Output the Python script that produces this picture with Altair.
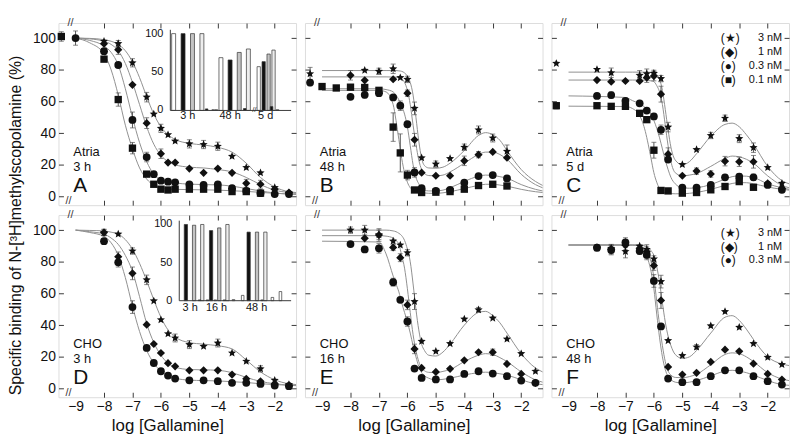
import math
import altair as alt
import pandas as pd

FONT = "Liberation Sans"
SERIES = ["3 nM", "1 nM", "0.3 nM", "0.1 nM"]

# ---------------- measured points (log[Gallamine], % binding, s.e.m.) ----------------
A_X = [-9.5, -9.0, -8, -7.5, -7, -6.5, -6.25, -6, -5.75, -5.5, -5, -4.5, -4, -3.5, -3, -2.5, -2, -1.5]
A_3 = [None, None, 98, 96.5, 84.4, 62.7, 52, 43, 39, 35, 33.2, 32.8, 31.7, 25.3, 18.3, 14.9, 5.6, 2.1]
A_3E = [0, 0, 0, 2, 2.6, 3, 0, 2.6, 0, 0, 2.6, 2.6, 2.6, 0, 0, 0, 0, 0]
A_1 = [None, None, 96.5, 92.7, 70.5, 46.3, None, 27, 21.4, 21.4, 17.6, 14.9, 17.6, 14.9, 8.3, 7.7, 4.5, 2.5]
A_1E = [0, 0, 0, 3, 0, 3.4, 0, 3, 0, 0, 0, 0, 0, 0, 2.5, 2.5, 0, 0]
A_03 = [None, 100, 91.7, 83, 48.3, 24.9, 14.1, 10, 9.3, 8.9, 7.7, 7.3, 7.7, 5.2, 3.5, 2.1, 1.5, 1.5]
A_03E = [0, 4.5, 0, 0, 5, 3, 0, 0, 0, 0, 0, 0, 0, 0, 0, 0, 0, 0]
A_01 = [101, None, 86.7, 61.2, 30.5, 14.1, 7.7, 4.6, 4.1, 4.6, 4.6, 4.6, 4.6, 3.1, 3.1, 2.1, None, None]
A_01E = [3, 0, 0, 4.2, 3.6, 0, 0, 0, 0, 0, 0, 0, 0, 0, 0, 0, 0, 0]

B_X = [-9.42, -9, -8.5, -8, -7.5, -7, -6.5, -6.25, -6, -5.75, -5.5, -5, -4.5, -4, -3.5, -3, -2.5]
B_3 = [77.5, None, None, None, 79.6, 79, 80.6, 75, 73.9, 55.6, 24.4, 20.4, 23.9, 31.1, 42, 36.9, 28.5]
B_3E = [4, 0, 0, 0, 0, 2, 3, 0, 2, 4, 0, 2, 0, 2, 2.5, 2.5, 4]
B_1 = [None, None, None, 76.5, 73.3, None, 74, None, 65.2, 35.8, 15, 13.1, 13.1, 22.5, 26.4, 28.1, 24.5]
B_1E = [0, 0, 0, 3, 0, 0, 0, 0, 2, 4, 0, 0, 0, 3, 2, 0, 0]
B_03 = [71.9, None, None, 62.9, 64.2, 65.2, 62.5, 57.3, 45.6, 15.2, 5.2, 3.5, 4.1, 8.7, 12.9, 13.5, 11.4]
B_03E = [2, 0, 0, 0, 2, 0, 0, 3, 0, 3, 0, 0, 0, 0, 0, 0, 0]
B_01 = [None, 69.4, 68.5, 69, 68.8, 67, 43.8, 27.5, 13.5, 4.1, 2.5, 2.7, 3.1, 4.6, 6.9, 7.7, 6.6]
B_01E = [0, 0, 0, 0, 0, 0, 9, 12, 3, 0, 0, 0, 0, 0, 0, 0, 0]

C_X = [-9.43, -8, -7.5, -7, -6.5, -6.25, -6, -5.75, -5.5, -5, -4.5, -4, -3.5, -3, -2.5, -2, -1.5]
C_3 = [84, 80.2, 78.1, None, 76.5, 77.5, 77.7, 74.4, 43.8, 20.2, 29.6, 38.5, 49.4, 36.5, 30.8, 18.3, 8.3]
C_3E = [0, 0, 3, 0, 3, 3, 2, 2, 3, 0, 0, 2, 2, 2.5, 3, 0, 0]
C_1 = [None, 73.5, 72.5, 72.9, 72.9, 75, 76, 64.6, 26.7, 13.1, 16, 14.2, 22.3, 21.9, 21.9, 8.3, 5.2]
C_1E = [0, 0, 0, 0, 0, 3, 3, 5, 4, 0, 2, 2, 3, 3, 4, 0, 0]
C_03 = [None, 63.5, 64, 60.4, 58.8, 54.2, 50.5, 42.1, 23.3, 5.6, 5.6, 7.3, 12.1, 12.5, 12.1, 7.3, 4.2]
C_03E = [0, 0, 2, 0, 0, 0, 0, 3, 0, 0, 0, 0, 0, 2, 2, 0, 0]
C_01 = [57.3, 57.3, 56.9, 56.9, 52.5, 48.5, 29.2, 3.8, 3.5, 2.1, 2.5, 4.2, 6.3, 9.4, 5.8, None, None]
C_01E = [2, 0, 0, 0, 0, 0, 5, 0, 0, 0, 0, 0, 0, 0, 0, 0, 0]

D_X = [-8, -7.5, -7, -6.5, -6.25, -6, -5.75, -5.5, -5, -4.5, -4, -3.5, -3, -2.5, -2, -1.5]
D_3 = [98.5, 97.5, 86.8, 68.6, 55.3, 43.4, 34.6, 31.9, 27.7, 26.6, 28.7, 22.4, 17.2, 12.4, 5.2, 2.5]
D_3E = [2, 0, 2, 3, 0, 0, 0, 2.5, 2.5, 0, 2.5, 0, 0, 2, 0, 0]
D_1 = [98.5, 83.2, 72.7, 40.3, 28.1, 22.4, 16, 14, 11.5, 11.5, 11.5, 8.8, 6.1, 4.6, 2.9, 2]
D_1E = [2, 3, 4, 0, 0, 0, 0, 0, 0, 0, 0, 0, 0, 0, 0, 0]
D_03 = [93, 79.7, 51.4, 25.6, 16.1, 10.9, 8.2, 6.3, 5.2, 5.2, 4.6, 3.6, 3.6, 2.9, 1.9, 1.5]
D_03E = [0, 3, 4, 0, 0, 0, 0, 0, 0, 0, 0, 0, 0, 0, 0, 0]

E_X = [-8, -7.5, -7, -6.5, -6.25, -6, -5.75, -5.5, -5, -4.5, -4, -3.5, -3, -2.5, -2, -1.5]
E_3 = [100, 100, 97, 93.1, 90.6, 85.7, 54.9, 29.8, 23.5, 28.3, 43.8, 49.7, 44.4, 31.2, 22, 10.9]
E_3E = [2, 3, 3, 0, 0, 2, 5, 0, 0, 0, 0, 1.5, 0, 0, 0, 0]
E_1 = [None, 94.8, 96.9, 89.1, 82.6, 52.8, 25, 13, 10.5, 12.4, 17.8, 22.9, 22.9, 15.5, 9.2, 3.6]
E_1E = [0, 0, 4, 2, 2.5, 3, 3, 0, 0, 0, 0, 0, 2, 0, 0, 0]
E_03 = [91.2, 87.8, 88.5, 67.1, 56, 42.3, 12.6, 6.7, 5.7, 5.7, 9.2, 10.9, 9.4, 7.8, 5, 3.6]
E_03E = [0, 0, 3, 2.5, 0, 3, 0, 0, 0, 0, 0, 0, 0, 0, 0, 0]

F_X = [-8, -7.5, -7, -6.5, -6.25, -6, -5.75, -5.5, -5, -4.5, -4, -3.5, -3, -2.5, -2, -1.5]
F_3 = [88.9, 88.5, 86.5, 89.9, 87.8, 81.8, 67.5, 30.2, 20.8, 26.2, 39.6, 48.6, 38.6, 28.3, 19.7, 15.1]
F_3E = [0, 2, 4, 0, 3, 2, 4, 0, 0, 1.5, 0, 0, 0, 0, 0, 0]
F_1 = [88.9, 88, 90.5, 88.5, 86.4, 77.6, 55.6, 13.6, 8.8, 9.9, 16.8, 24.5, 23.5, 15.7, 9.2, 5.7]
F_1E = [0, 3, 3, 2, 3, 3, 5, 0, 0, 0, 0, 0, 0, 0, 0, 0]
F_03 = [88.9, 87.4, 92.2, 86.8, 84.3, 67.9, 39.2, 6.3, 4, 4, 7.8, 11.5, 11.5, 7.8, 4.6, 2.5]
F_03E = [2, 3, 3, 2, 3, 4, 0, 0, 0, 0, 0, 0, 0, 0, 0, 0]

# ---------------- fitted curves ----------------
GA = [-9, -8.5, -8, -7.75, -7.5, -7.25, -7, -6.75, -6.5, -6.25, -6, -5.75, -5.5, -5, -4.5, -4, -3.5, -3, -2.5, -2, -1.5, -1.25]
A_C3 = [100, 99.8, 99, 98, 96, 92, 85, 75, 63, 52, 44, 39, 36, 33.5, 32.5, 31, 28, 21, 12, 6, 3, 2.5]
A_C1 = [100, 99.5, 98, 96, 92, 84, 72, 58, 44, 33, 26, 22, 20, 18.5, 18, 17, 15.5, 12, 7.5, 4, 2.5, 2]
A_C03 = [100, 98.5, 95, 91, 83, 68, 50, 34, 22, 14, 10.5, 9.3, 8.5, 7.8, 7.5, 7.3, 6.5, 5, 3.5, 2.2, 1.5, 1.3]
A_C01 = [100, 97, 90, 80, 64, 45, 30, 18, 11, 7, 5.2, 4.7, 4.5, 4.3, 4.2, 4, 3.6, 3.2, 2.6, 2, 1.6, 1.5]
D_C3 = [100, 99.8, 99.5, 98.7, 97.5, 94, 88, 79, 68, 56, 45, 37, 32.5, 29, 28, 27, 25, 18, 10.5, 5.5, 3, 2.5]
D_C1 = [100, 99, 97.5, 95, 91, 84, 74, 58, 41, 29, 21, 16, 13.5, 12, 11.8, 11.5, 10, 7, 4.5, 3, 2.2, 2]
D_C03 = [100, 98.5, 96, 92, 84, 70, 52, 36, 24, 16, 11, 8, 6.5, 5.3, 5, 4.8, 4.3, 3.8, 3, 2.5, 2, 1.8]

GB = [-9, -7, -6.75, -6.5, -6.4, -6.3, -6.2, -6.1, -6, -5.9, -5.8, -5.7, -5.6, -5.5, -5.4, -5.25,
      -5, -4.75, -4.5, -4, -3.5, -3.25, -3, -2.75, -2.5, -2, -1.5, -1.25]
B_C3 = [79.5, 79.5, 79.5, 79.5, 79.5, 79.3, 79, 78, 76, 72, 64, 50, 35, 24, 19.5, 18, 17.8, 18.5, 21, 29, 38.5, 40.3, 39, 35.5, 29, 17, 9.5, 7]
B_C1 = [75.5, 75.5, 75.5, 75.4, 75.3, 75, 74.3, 72, 67, 58, 45, 33, 23, 17, 14.5, 13.2, 13, 13.5, 15.5, 21, 26.5, 28, 28, 26.5, 23.5, 14, 7.5, 5.5]
B_C03 = [68, 68, 67.5, 66, 64, 61, 57, 52, 44, 32, 20, 12, 8, 5, 4, 3.5, 3.5, 4, 5.5, 9.5, 12.8, 13.5, 13.3, 12.5, 11.5, 7.5, 4.5, 3.5]
B_C01 = [67, 67, 66, 58, 48, 36, 24, 15, 9, 5.5, 4, 3.3, 2.8, 2.5, 2.2, 2, 2, 2.3, 3, 5, 7, 7.7, 7.7, 7.2, 6.5, 4.5, 3, 2.5]
C_C3 = [78.5, 78.5, 78.5, 78.5, 78.5, 78.5, 78.5, 78.3, 78, 77, 74, 67, 55, 42, 31, 23, 20, 22, 27, 38, 45.5, 46.3, 44, 39, 33, 19, 10, 8]
C_C1 = [73.5, 73.5, 73.5, 73.5, 73.5, 73.4, 73.2, 73, 72.5, 70, 66, 58, 45, 32, 22, 15, 13, 13.5, 14.5, 19, 24, 25.5, 25, 23.5, 21, 13, 7, 5.5]
C_C03 = [63.5, 62.5, 60.5, 58.5, 57.5, 56, 54.5, 52, 48, 43, 37, 30, 23, 17, 12, 8, 5.5, 5.2, 5.5, 7.5, 11, 12.5, 13, 12.8, 12, 8, 5.5, 4.5]
C_C01 = [57, 56.8, 55.5, 51, 47, 41, 33, 24, 15, 9, 5, 3, 2.2, 1.9, 1.8, 1.7, 1.7, 2, 2.5, 4.5, 7, 8.2, 8.7, 8.7, 8, 6, 4.5, 4]
E_C3 = [100, 100, 100, 99.5, 99, 98, 96.5, 93.5, 88, 80, 66, 50, 37, 28, 24, 21, 20.5, 23, 28, 40, 48, 48.7, 46, 41.5, 35, 22, 13, 10.5]
E_C1 = [96.5, 96.5, 96.2, 95, 93.5, 91, 84, 76, 63, 48, 34, 24, 17, 13, 11.2, 10.2, 10, 10.8, 12, 17, 21, 22, 21.5, 19.5, 17, 10.5, 5.5, 4]
E_C03 = [93, 92.5, 85, 71, 66, 61, 54, 48, 42, 35, 27, 20, 14, 10, 8, 6.5, 5.5, 5.8, 6.5, 8.5, 10, 10.3, 10, 9.3, 8.5, 5.5, 3, 2.5]
F_C3 = [90.6, 90.6, 90.6, 90.5, 90.3, 90, 89, 87, 84, 77, 67, 54, 42, 33, 27, 21.5, 19, 20, 24, 35, 45, 46, 43, 37.5, 31, 20, 15.5, 14.5]
F_C1 = [90.6, 90.6, 90.6, 90.3, 89.5, 88, 85, 80, 70, 55, 40, 27, 17, 11, 8.5, 7, 6.8, 7.5, 9, 15, 21.5, 22.5, 22, 20, 17, 10, 6, 5]
F_C03 = [90.6, 90.6, 90.5, 90, 88.5, 86, 81, 74, 63, 47, 32, 20, 12, 7.5, 5.5, 4, 3.5, 4, 5, 8, 11, 11.5, 11, 10, 8.5, 5, 2.5, 2]

# ---------------- inset bar charts ----------------
IA_GROUPS = ["3 h", "48 h", "5 d"]
IA_FILLS = ["white", "black", "cross", "grid"]
IA_MAIN = [[100, 100, 100, 100], [68.7, 65.7, 75.5, 80], [57, 63.5, 73.4, 78.6]]
IA_SMALL = [("3 h", 3.5, 2, "black"), ("3 h", 4.2, 1, "white"), ("48 h", -0.5, 1, "white"),
            ("48 h", 2.6, 2.5, "black"), ("5 d", 2.6, 5, "black"), ("5 d", 3.8, 1, "white")]
ID_GROUPS = ["3 h", "16 h", "48 h"]
ID_FILLS = ["black", "cross", "grid"]
ID_MAIN = [[100, 99, 100], [92, 95.5, 100], [90, 90, 90]]
ID_SMALL = [("3 h", 1.67, 1, "black"), ("16 h", -0.44, 1, "black"), ("16 h", 0.52, 1, "white"),
            ("16 h", 1.63, 1, "black"), ("16 h", 2.74, 1.5, "white"), ("16 h", 3.86, 7, "white"),
            ("48 h", 1.6, 1, "black"), ("48 h", 2.84, 4.3, "white"), ("48 h", 3.8, 12, "white")]
INSET_TICKS = [0, 50, 100]

PANEL_TISSUE = ["Atria", "Atria", "Atria", "CHO", "CHO", "CHO"]
PANEL_TIME = ["3 h", "48 h", "5 d", "3 h", "16 h", "48 h"]
PANEL_LETTER = ["A", "B", "C", "D", "E", "F"]
LEGEND_SYMS = ["(\u2605)", "(\u25c6)", "(\u25cf)", "(\u25a0)"]

# ---------------- layout / style ----------------
W, H = 240, 184
XD = [-9.6, -1.25]
YD = [-5.5, 109.5]
AX = "#3a3a3a"
XS = alt.Scale(domain=XD, nice=False, zero=False)
YS = alt.Scale(domain=YD, nice=False, zero=False)


def star_path(inner=0.45):
    pts = []
    for k in range(10):
        a = -math.pi / 2 + k * math.pi / 5
        r = 1.0 if k % 2 == 0 else inner
        pts.append(f"{r * math.cos(a):.3f},{r * math.sin(a):.3f}")
    return "M" + "L".join(pts) + "Z"


STAR = star_path()


def pts_df(xs, series):
    rows = []
    for name, ys, es in series:
        for x, y, e in zip(xs, ys, es):
            if y is None:
                continue
            rows.append(dict(x=x, y=y, s=name, e=e, lo=y - e, hi=y + e))
    return pd.DataFrame(rows)


def curve_df(xs, series):
    rows = []
    for name, ys in series:
        for x, y in zip(xs, ys):
            rows.append(dict(x=x, y=y, s=name))
    return pd.DataFrame(rows)


def txt(text, px, py, size, align="left", baseline="middle"):
    return alt.Chart(pd.DataFrame({"t": [text]})).mark_text(
        align=align, baseline=baseline, fontSize=size, font=FONT, color="#111").encode(
        text="t:N", x=alt.value(px), y=alt.value(py))


def X(f, axis=None):
    return alt.X(f, type="quantitative", scale=XS, axis=axis, title=None)


def Y(f, axis=None):
    return alt.Y(f, type="quantitative", scale=YS, axis=axis, title=None)


def inset(groups, mains, fills, starts, steps, widths, smalls, label_slots, left, y0, k, label_y, brk=None):
    rows = []
    for g, vals, st, sp, w in zip(groups, mains, starts, steps, widths):
        for i, (v, f) in enumerate(zip(vals, fills)):
            rows.append(dict(pos=st + i * sp, v=v, f=f, w=w))
    for g, slot, v, f in smalls:
        gi = groups.index(g)
        rows.append(dict(pos=starts[gi] + slot * steps[gi], v=v, f=f, w=2.6))
    bars = pd.DataFrame(rows)
    xmax = (W - left) / 10.0
    isx = alt.Scale(domain=[0, xmax], range=[left, W], nice=False, zero=False)
    isy = alt.Scale(domain=[0, 105], range=[y0, y0 - 105 * k], nice=False, zero=False)

    def IX(f):
        return alt.X(f, type="quantitative", scale=isx, axis=None, title=None)

    def IY(f):
        return alt.Y(f, type="quantitative", scale=isy, axis=None, title=None)

    axes_df = pd.DataFrame({"p0": [0.0], "p1": [xmax], "v0": [0], "v1": [105]})
    yline = alt.Chart(axes_df).mark_rule(color=AX, strokeWidth=1).encode(x=IX("p0:Q"), y=IY("v0:Q"), y2="v1:Q")
    xline = alt.Chart(axes_df).mark_rule(color=AX, strokeWidth=1).encode(x=IX("p0:Q"), x2="p1:Q", y=IY("v0:Q"))
    bar_layer = alt.Chart(bars).mark_bar(stroke="#333", strokeWidth=0.7).encode(
        x=IX("pos:Q"), y=IY("v:Q"),
        fill=alt.Fill("f:N", scale=alt.Scale(domain=["white", "black", "cross", "grid"],
                                             range=["#ffffff", "#111111", "#c4c4c4", "#ededed"]),
                      legend=None),
        size=alt.Size("w:Q", scale=None),
    )
    lab_rows = [dict(pos=st + sl * sp, v=label_y, t=g)
                for g, st, sp, sl in zip(groups, starts, steps, label_slots)]
    lab_layer = alt.Chart(pd.DataFrame(lab_rows)).mark_text(
        fontSize=11, font=FONT, color="#111", baseline="middle").encode(
        x=IX("pos:Q"), y=IY("v:Q"), text="t:N")
    layers = [bar_layer, xline, yline, lab_layer]
    # inset y-axis tick labels (guide text placed next to the inset axis)
    for v in INSET_TICKS:
        layers.append(txt(str(v), left - 2, y0 - v * k, 11, align="right"))
    if brk is not None:
        layers.append(alt.Chart(pd.DataFrame({"pos": [brk], "v": [0]})).mark_text(
            text="//", fontSize=8, font=FONT, color="#333").encode(x=IX("pos:Q"), y=IY("v:Q")))
    return alt.layer(*layers)


def panel(idx, xs, pseries, gx, cseries, legend=None, ins=None):
    row, col = divmod(idx, 3)
    bottom, left = row == 1, col == 0
    pts = pts_df(xs, pseries)
    crv = curve_df(gx, cseries)
    carrier = pd.DataFrame({"x": [-9.0], "y": [0.0]})

    tick_cond = {"condition": {"test": "datum.value < -8.5", "value": 0}, "value": 1}
    bx = dict(orient="bottom", values=list(range(-9, -1)), offset=-5, tickSize=5, grid=False,
              domain=False, tickColor=AX, tickOpacity=tick_cond, labels=bottom)
    xtitle = None
    if bottom:
        bx.update(labelFontSize=14, labelPadding=2, labelColor="#111",
                  titleFontSize=17, titleFontWeight="normal", titlePadding=5, titleX=110,
                  titleColor="#111", titleFont=FONT, labelFont=FONT)
        xtitle = "log [Gallamine]"
    ly = dict(orient="left", values=list(range(0, 101, 20)), offset=-5, tickSize=5, grid=False,
              domain=False, tickColor=AX, labels=left)
    if left:
        ly.update(labelFontSize=14, labelPadding=3, labelColor="#111", labelFont=FONT)
    tx = dict(orient="top", values=list(range(-8, -1)), offset=-5, tickSize=5, grid=False,
              domain=False, tickColor=AX, labels=False)
    ry = dict(orient="right", values=list(range(0, 101, 20)), offset=-5, tickSize=5, grid=False,
              domain=False, tickColor=AX, labels=False)

    c1 = alt.Chart(carrier).mark_point(opacity=0).encode(
        x=alt.X("x:Q", scale=XS, axis=alt.Axis(**bx), title=xtitle), y=Y("y:Q", alt.Axis(**ly)))
    c2 = alt.Chart(carrier).mark_point(opacity=0).encode(x=X("x:Q", alt.Axis(**tx)), y=Y("y:Q", alt.Axis(**ry)))

    lines = alt.Chart(crv).mark_line(color="#909090", strokeWidth=1, interpolate="monotone").encode(
        x=X("x:Q"), y=Y("y:Q"), detail="s:N")
    errs = pts[pts.e > 0]
    err_rule = alt.Chart(errs).mark_rule(color="#555", strokeWidth=1).encode(
        x=X("x:Q"), y=Y("lo:Q"), y2="hi:Q")
    err_cap = alt.Chart(errs).transform_fold(["lo", "hi"], as_=["k", "v"]).mark_tick(
        color="#555", orient="horizontal", size=5, thickness=1).encode(x=X("x:Q"), y=Y("v:Q"))
    points = alt.Chart(pts).mark_point(filled=True, opacity=1, color="#111", strokeWidth=0).encode(
        x=X("x:Q"), y=Y("y:Q"),
        shape=alt.Shape("s:N", scale=alt.Scale(domain=SERIES, range=[STAR, "diamond", "circle", "square"]),
                        legend=None),
        size=alt.Size("s:O", scale=alt.Scale(domain=SERIES, range=[75, 55, 42, 30]), legend=None))
    brk_top = alt.Chart(pd.DataFrame({"x": [-9.18], "y": [YD[1]]})).mark_text(
        text="//", fontSize=11, font=FONT, color="#333", baseline="middle").encode(x=X("x:Q"), y=Y("y:Q"))
    brk_bot = alt.Chart(pd.DataFrame({"x": [-9.25], "y": [YD[0]]})).mark_text(
        text="//", fontSize=11, font=FONT, color="#333", baseline="bottom", dy=1).encode(x=X("x:Q"), y=Y("y:Q"))

    layers = [c1, c2, lines, err_rule, err_cap, points, brk_top, brk_bot,
              txt(PANEL_TISSUE[idx], 15, 130, 13),
              txt(PANEL_TIME[idx], 15, 145, 13),
              txt(PANEL_LETTER[idx], 15, 165, 21)]
    if legend is not None:
        n, y0, step = legend
        for i in range(n):
            layers.append(txt(LEGEND_SYMS[i], 171, y0 + i * step, 12))
            layers.append(txt(SERIES[i], 233, y0 + i * step, 11, align="right"))
    main = alt.layer(*layers).resolve_axis(x="independent", y="independent")
    if ins is not None:
        ch = alt.layer(main, ins).resolve_scale(x="independent", y="independent")
    else:
        ch = main
    return ch.properties(width=W, height=H)


insA = inset(IA_GROUPS, IA_MAIN, IA_FILLS, [0.36, 5.53, 9.66], [1.03, 1.0, 0.54], [4, 4, 3.3],
             IA_SMALL, [1.5, 1.0, 1.4], 108, 88.3, 0.776, -7, brk=9.18)
insD = inset(ID_GROUPS, ID_MAIN, ID_FILLS, [0.73, 3.5, 7.63], [0.9, 0.9, 0.92], [3.3, 3.3, 3.3],
             ID_SMALL, [0.52, 0.67, 0.95], 117, 86.5, 0.77, -9.7)

pA = panel(0, A_X, [("3 nM", A_3, A_3E), ("1 nM", A_1, A_1E), ("0.3 nM", A_03, A_03E), ("0.1 nM", A_01, A_01E)],
           GA, [("3 nM", A_C3), ("1 nM", A_C1), ("0.3 nM", A_C03), ("0.1 nM", A_C01)], ins=insA)
pB = panel(1, B_X, [("3 nM", B_3, B_3E), ("1 nM", B_1, B_1E), ("0.3 nM", B_03, B_03E), ("0.1 nM", B_01, B_01E)],
           GB, [("3 nM", B_C3), ("1 nM", B_C1), ("0.3 nM", B_C03), ("0.1 nM", B_C01)])
pC = panel(2, C_X, [("3 nM", C_3, C_3E), ("1 nM", C_1, C_1E), ("0.3 nM", C_03, C_03E), ("0.1 nM", C_01, C_01E)],
           GB, [("3 nM", C_C3), ("1 nM", C_C1), ("0.3 nM", C_C03), ("0.1 nM", C_C01)], legend=(4, 15, 14.3))
pD = panel(3, D_X, [("3 nM", D_3, D_3E), ("1 nM", D_1, D_1E), ("0.3 nM", D_03, D_03E)],
           GA, [("3 nM", D_C3), ("1 nM", D_C1), ("0.3 nM", D_C03)], ins=insD)
pE = panel(4, E_X, [("3 nM", E_3, E_3E), ("1 nM", E_1, E_1E), ("0.3 nM", E_03, E_03E)],
           GB, [("3 nM", E_C3), ("1 nM", E_C1), ("0.3 nM", E_C03)])
pF = panel(5, F_X, [("3 nM", F_3, F_3E), ("1 nM", F_1, F_1E), ("0.3 nM", F_03, F_03E)],
           GB, [("3 nM", F_C3), ("1 nM", F_C1), ("0.3 nM", F_C03)], legend=(3, 18.5, 13.5))

chart = alt.concat(
    pA, pB, pC, pD, pE, pF, columns=3, spacing={"row": 10, "column": 9}, bounds="flush",
).properties(
    title=alt.TitleParams("Specific binding of N-[\u00b3H]methylscopolamine (%)", orient="left",
                          anchor="middle", fontSize=16, fontWeight="normal", font=FONT,
                          color="#111", offset=8),
    padding={"left": 0, "top": 6, "right": 0, "bottom": 0},
).configure_view(stroke=AX, strokeWidth=1).configure(font=FONT)

chart.save("out.html", embed_options={"renderer": "svg", "actions": False})
